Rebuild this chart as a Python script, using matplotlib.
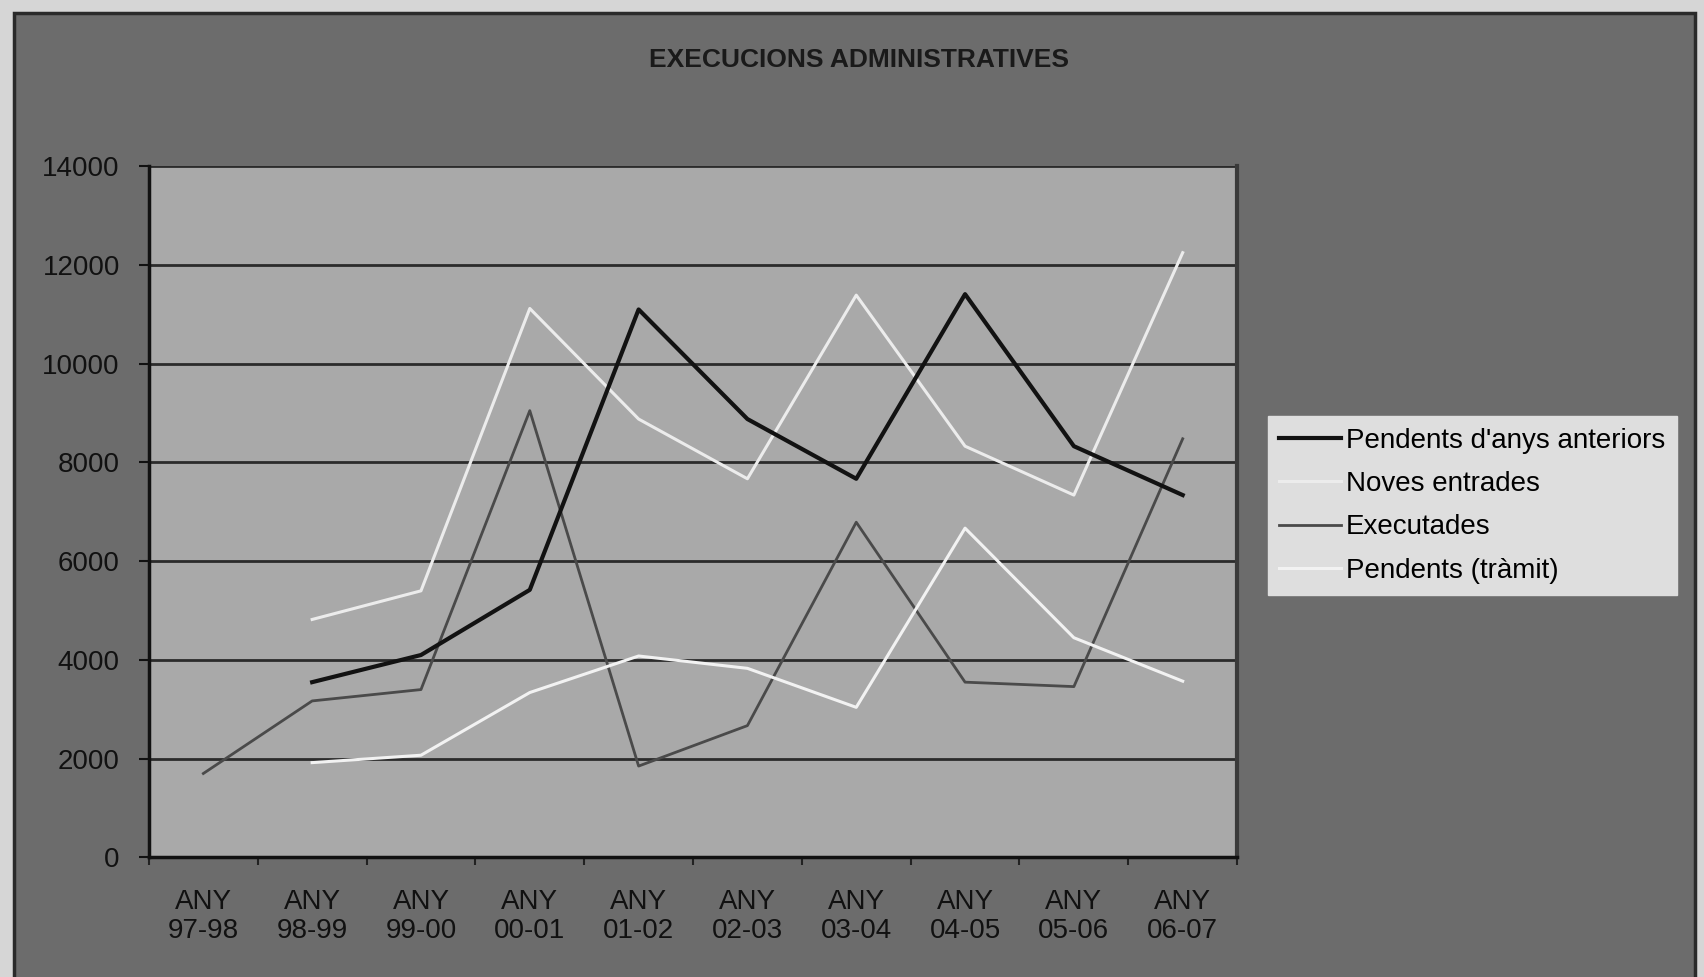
import numpy as np
import matplotlib
matplotlib.use("Agg")
import matplotlib.pyplot as plt
from matplotlib.patches import Rectangle

categories = ["ANY\n97-98", "ANY\n98-99", "ANY\n99-00", "ANY\n00-01", "ANY\n01-02",
              "ANY\n02-03", "ANY\n03-04", "ANY\n04-05", "ANY\n05-06", "ANY\n06-07"]
pendents_anteriors = [np.nan, 3550, 4100, 5420, 11100, 8880, 7670, 11410, 8330, 7340]
noves_entrades = [np.nan, 4820, 5400, 11120, 8880, 7670, 11390, 8330, 7340, 12250]
executades = [1700, 3170, 3400, 9050, 1850, 2670, 6790, 3550, 3460, 8480]
pendents_tramit = [np.nan, 1920, 2070, 3340, 4080, 3830, 3040, 6670, 4450, 3570]
series_names = ["Pendents d'anys anteriors", "Noves entrades", "Executades", "Pendents (tràmit)"]
yticks = [0, 2000, 4000, 6000, 8000, 10000, 12000, 14000]

plt.rcParams['font.family'] = ['Liberation Sans', 'DejaVu Sans']

fig = plt.figure(figsize=(17.04, 9.77), dpi=100, facecolor="#d6d6d6")
bg = Rectangle((0.008, -0.01), 0.987, 0.997, transform=fig.transFigure,
               facecolor="#6c6c6c", edgecolor="#2a2a2a", linewidth=2.5, zorder=-10)
fig.patches.append(bg)

ax = fig.add_axes([0.0874, 0.1224, 0.6386, 0.7074], zorder=1)
ax.set_facecolor("#a9a9a9")
x = np.arange(len(categories))

ax.set_ylim(0, 14000)
ax.set_xlim(-0.5, len(categories) - 0.5)
ax.set_yticks(yticks)
ax.set_yticklabels([str(v) for v in yticks])
ax.yaxis.grid(True, color="#2b2b2b", linewidth=2.0)
ax.set_axisbelow(True)

ax.plot(x, pendents_anteriors, color="#121212", linewidth=3.0, label=series_names[0], zorder=5)
ax.plot(x, noves_entrades, color="#ececec", linewidth=2.2, label=series_names[1], zorder=4)
ax.plot(x, executades, color="#4a4a4a", linewidth=2.0, label=series_names[2], zorder=3)
ax.plot(x, pendents_tramit, color="#f2f2f2", linewidth=2.2, label=series_names[3], zorder=3)

ax.set_xticks(x)
ax.set_xticklabels(categories, linespacing=1.15)
ax.set_xticks(np.arange(-0.5, len(categories), 1.0), minor=True)
ax.tick_params(axis="x", which="major", length=0, pad=23, labelsize=20, colors="#111111")
ax.tick_params(axis="x", which="minor", length=6, width=1.5, color="#222222")
ax.tick_params(axis="y", length=7, width=1.5, pad=14, labelsize=20, colors="#111111")

for s in ["left", "bottom"]:
    ax.spines[s].set_color("#111111")
    ax.spines[s].set_linewidth(2.5)
ax.spines["top"].set_visible(False)
ax.spines["right"].set_color("#3a3a3a")
ax.spines["right"].set_linewidth(3)

fig.text(0.504, 0.939, "EXECUCIONS ADMINISTRATIVES", ha="center", va="center",
         fontsize=19, fontweight="bold", color="#1a1a1a")

leg = fig.legend(loc="upper left", bbox_to_anchor=(0.744, 0.574), fontsize=20,
                 frameon=True, fancybox=False, handlelength=2.2, handletextpad=0.2,
                 labelspacing=0.62, borderpad=0.42, borderaxespad=0)
leg.get_frame().set_facecolor("#dedede")
leg.get_frame().set_edgecolor("#dedede")
leg.get_frame().set_alpha(1)

fig.savefig("out.png", dpi=100, facecolor=fig.get_facecolor())
